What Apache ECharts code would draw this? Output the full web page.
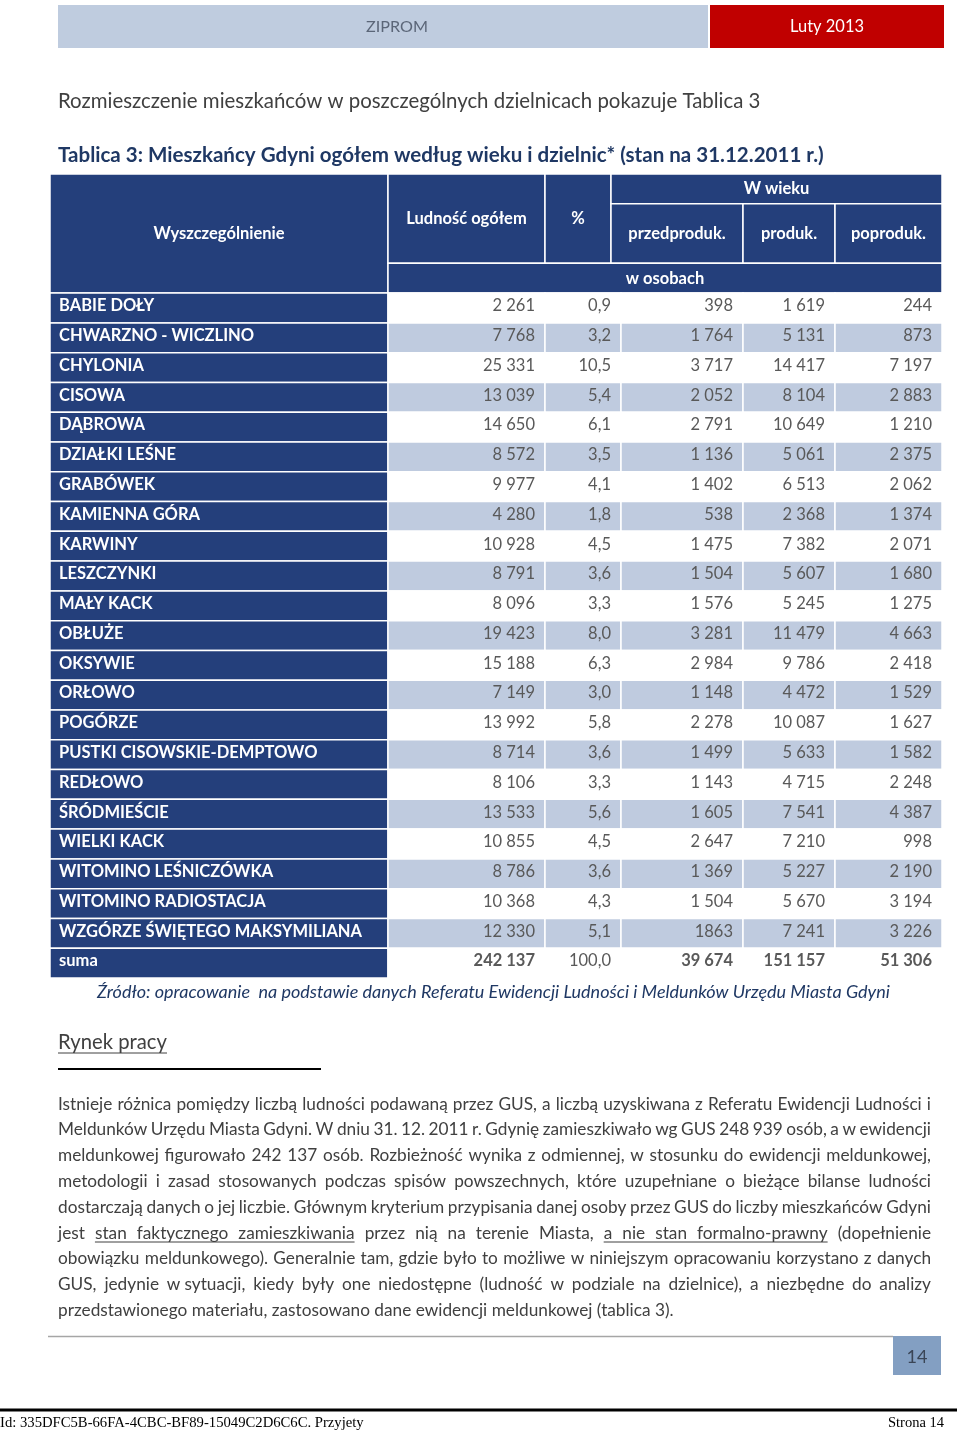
<!DOCTYPE html>
<html><head><meta charset="utf-8">
<script src="https://cdn.jsdelivr.net/npm/echarts@6/dist/echarts.min.js"></script>
<style>html,body{margin:0;padding:0;background:#fff}#c{width:960px;height:1433px}</style>
</head><body><div id="c"></div><script>
// ---------- DATA ----------
const districts = ['BABIE DOŁY','CHWARZNO - WICZLINO','CHYLONIA','CISOWA','DĄBROWA','DZIAŁKI LEŚNE','GRABÓWEK','KAMIENNA GÓRA','KARWINY','LESZCZYNKI','MAŁY KACK','OBŁUŻE','OKSYWIE','ORŁOWO','POGÓRZE','PUSTKI CISOWSKIE-DEMPTOWO','REDŁOWO','ŚRÓDMIEŚCIE','WIELKI KACK','WITOMINO LEŚNICZÓWKA','WITOMINO RADIOSTACJA','WZGÓRZE ŚWIĘTEGO MAKSYMILIANA'];
const population = [2261,7768,25331,13039,14650,8572,9977,4280,10928,8791,8096,19423,15188,7149,13992,8714,8106,13533,10855,8786,10368,12330];
const percent = [0.9,3.2,10.5,5.4,6.1,3.5,4.1,1.8,4.5,3.6,3.3,8.0,6.3,3.0,5.8,3.6,3.3,5.6,4.5,3.6,4.3,5.1];
const preProd = [398,1764,3717,2052,2791,1136,1402,538,1475,1504,1576,3281,2984,1148,2278,1499,1143,1605,2647,1369,1504,1863];
const prod = [1619,5131,14417,8104,10649,5061,6513,2368,7382,5607,5245,11479,9786,4472,10087,5633,4715,7541,7210,5227,5670,7241];
const postProd = [244,873,7197,2883,1210,2375,2062,1374,2071,1680,1275,4663,2418,1529,1627,1582,2248,4387,998,2190,3194,3226];
const totalLabel = 'suma';
const totals = [242137, 100.0, 39674, 151157, 51306];
const headerLabels = ['Wyszczególnienie','Ludność ogółem','%','W wieku','przedproduk.','produk.','poproduk.','w osobach'];
// cells printed without thousands separator in the source: [row, column]
const unspacedCells = [[21, 3]];

// ---------- LAYOUT ----------
const FONT = 'Lato';
const colEdges = [0, 338, 495, 571, 693, 785, 892];
const headPctEdge = 561;
const DARK = '#243F7B', LIGHT = '#BFCBDF', NUM = '#595959';

const fmtInt = v => String(v).replace(/\B(?=(\d{3})+(?!\d))/g, ' ');
const fmtPct = v => v.toFixed(1).replace('.', ',');

const cells = [];
function cell(x0, x1, y0, y1, opt) { cells.push(Object.assign({x0, x1, y0, y1}, opt)); }
// header
const H = {fill: DARK, color: '#fff', weight: 'bold', align: 'center', dy: 0};
cell(colEdges[0], colEdges[1], -4, 0, Object.assign({text: headerLabels[0]}, H));
cell(colEdges[1], colEdges[2], -4, -1, Object.assign({text: headerLabels[1]}, H));
cell(colEdges[2], headPctEdge, -4, -1, Object.assign({text: headerLabels[2]}, H));
cell(headPctEdge, colEdges[6], -4, -3, Object.assign({text: headerLabels[3]}, H));
cell(headPctEdge, colEdges[4], -3, -1, Object.assign({text: headerLabels[4]}, H));
cell(colEdges[4], colEdges[5], -3, -1, Object.assign({text: headerLabels[5]}, H));
cell(colEdges[5], colEdges[6], -3, -1, Object.assign({text: headerLabels[6]}, H));
cell(colEdges[1], colEdges[6], -1, 0, Object.assign({text: headerLabels[7]}, H));
// rows
const rows = districts.map((d, i) => [d, population[i], percent[i], preProd[i], prod[i], postProd[i]]);
rows.push([totalLabel].concat(totals));
rows.forEach((r, i) => {
  const isSum = i === rows.length - 1;
  cell(colEdges[0], colEdges[1], i, i + 1, {text: r[0], fill: DARK, color: '#fff', weight: 'bold', align: 'left', dy: -2});
  for (let c = 1; c <= 5; c++) {
    const unspaced = unspacedCells.some(u => u[0] === i && u[1] === c);
    const txt = c === 2 ? fmtPct(r[c]) : (unspaced ? String(r[c]) : fmtInt(r[c]));
    cell(colEdges[c], colEdges[c + 1], i, i + 1, {text: txt, fill: i % 2 ? LIGHT : '#fff', color: NUM,
      weight: (isSum && c !== 2) ? 'bold' : 'normal', align: 'right', dy: -2});
  }
});

// ---------- TEXT HELPERS ----------
const mctx = document.createElement('canvas').getContext('2d');
function measure(text, size, weight, style, fam) {
  mctx.font = `${style || 'normal'} ${weight || 'normal'} ${size}px ${fam || FONT}`;
  return mctx.measureText(text).width;
}
function fitSize(text, target, weight, style, fam) {
  return 100 * target / measure(text, 100, weight, style, fam);
}
const graphics = [];
function txt(x, y, text, o) {
  graphics.push({type: 'text', silent: true, x, y, style: Object.assign({text, fill: '#404040', fontFamily: FONT,
    verticalAlign: 'middle', align: 'left'}, o)});
}
function line(x1, y1, x2, y2, stroke, lw) {
  graphics.push({type: 'line', silent: true, shape: {x1, y1, x2, y2}, style: {stroke, lineWidth: lw}});
}
function rect(x, y, width, height, fill) {
  graphics.push({type: 'rect', silent: true, shape: {x, y, width, height}, style: {fill}});
}

// page header
rect(58, 5, 650, 43, '#BFCCDF');
rect(710, 5, 234, 43, '#C00000');
txt(397, 27, 'ZIPROM', {align: 'center', fill: '#5B6678', fontSize: fitSize('ZIPROM', 62)});
txt(827, 27, 'Luty 2013', {align: 'center', fill: '#fff', fontSize: fitSize('Luty 2013', 74)});

const intro = 'Rozmieszczenie mieszkańców w poszczególnych dzielnicach pokazuje Tablica 3';
txt(58, 101, intro, {fontSize: fitSize(intro, 703)});
const title = 'Tablica 3: Mieszkańcy Gdyni ogółem według wieku i dzielnic* (stan na 31.12.2011 r.)';
txt(58, 155, title, {fontSize: fitSize(title, 766, 'bold'), fontWeight: 'bold', fill: '#1F3864'});
const source = 'Źródło: opracowanie  na podstawie danych Referatu Ewidencji Ludności i Meldunków Urzędu Miasta Gdyni';
txt(97, 992, source, {fontSize: fitSize(source, 794, 'normal', 'italic'), fontStyle: 'italic', fill: '#1F3864'});

const rynek = 'Rynek pracy';
const rs = fitSize(rynek, 109);
txt(58, 1042, rynek, {fontSize: rs, fill: '#404040'});
line(58, 1053, 167, 1053, '#404040', 1);
line(58, 1069, 321, 1069, '#000', 2);

// body paragraph (justified)
const body = [
 'Istnieje różnica pomiędzy liczbą ludności podawaną przez GUS, a liczbą uzyskiwana z Referatu Ewidencji Ludności i',
 'Meldunków Urzędu Miasta Gdyni. W dniu 31. 12. 2011 r. Gdynię zamieszkiwało wg GUS 248 939 osób, a w ewidencji',
 'meldunkowej figurowało 242 137 osób. Rozbieżność wynika z odmiennej, w stosunku do ewidencji meldunkowej,',
 'metodologii i zasad stosowanych podczas spisów powszechnych, które uzupełniane o bieżące bilanse ludności',
 'dostarczają danych o jej liczbie. Głównym kryterium przypisania danej osoby przez GUS do liczby mieszkańców Gdyni',
 'jest stan faktycznego zamieszkiwania przez nią na terenie Miasta, a nie stan formalno-prawny (dopełnienie',
 'obowiązku meldunkowego). Generalnie tam, gdzie było to możliwe w niniejszym opracowaniu korzystano z danych',
 'GUS, jedynie w\u00a0sytuacji, kiedy były one niedostępne (ludność w podziale na dzielnice), a niezbędne do analizy',
 'przedstawionego materiału, zastosowano dane ewidencji meldunkowej (tablica 3).'
];
const underlined = {5: [[1, 3], [9, 12]]};
const bodySize = fitSize(body[8], 616);
const bx0 = 58, bx1 = 931, by0 = 1104, bstep = 25.8;
body.forEach((ln, li) => {
  const y = by0 + li * bstep;
  if (li === body.length - 1) { txt(bx0, y, ln, {fontSize: bodySize}); return; }
  const words = ln.split(' ');
  const ws = words.map(w => measure(w, bodySize));
  const gap = (bx1 - bx0 - ws.reduce((a, b) => a + b, 0)) / (words.length - 1);
  const xs = []; let x = bx0;
  words.forEach((w, wi) => { xs.push(x); txt(x, y, w, {fontSize: bodySize}); x += ws[wi] + gap; });
  (underlined[li] || []).forEach(([a, b]) => line(xs[a], y + 9, xs[b] + ws[b], y + 9, '#404040', 1));
});

// page footer
line(48, 1336.5, 893, 1336.5, '#A6A6A6', 1.5);
rect(893, 1336, 48, 39, '#839FC2');
txt(917, 1357, '14', {align: 'center', fill: '#3A4556', fontSize: fitSize('14', 21)});
line(0, 1410, 957, 1410, '#000', 3);
const idText = 'Id: 335DFC5B-66FA-4CBC-BF89-15049C2D6C6C. Przyjety';
txt(0, 1423, idText, {fontFamily: 'Liberation Serif', fontSize: fitSize(idText, 364, 'normal', 'normal', 'Liberation Serif'), fill: '#000'});
txt(944, 1423, 'Strona 14', {fontFamily: 'Liberation Serif', fontSize: fitSize('Strona 14', 56, 'normal', 'normal', 'Liberation Serif'), fill: '#000', align: 'right'});

// ---------- CHART ----------
const chart = echarts.init(document.getElementById('c'), null, {renderer: 'canvas'});
chart.setOption({
  animation: false,
  backgroundColor: '#fff',
  grid: {left: 50, right: 18, top: 174, bottom: 455},
  xAxis: {type: 'value', min: 0, max: 892, show: false},
  yAxis: {type: 'value', inverse: true, min: -4, max: 23, show: false},
  series: [{
    type: 'custom', silent: true,
    encode: {x: [0, 2], y: [1, 3]},
    data: cells.map(c => [c.x0, c.y0, c.x1, c.y1]),
    renderItem(params, api) {
      const c = cells[params.dataIndex];
      const p0 = api.coord([c.x0, c.y0]), p1 = api.coord([c.x1, c.y1]);
      const w = p1[0] - p0[0], h = p1[1] - p0[1];
      const tx = c.align === 'left' ? p0[0] + 9 : c.align === 'right' ? p1[0] - 10 : p0[0] + w / 2;
      return {type: 'group', children: [
        {type: 'rect', shape: {x: p0[0], y: p0[1], width: w, height: h}, style: {fill: c.fill, stroke: '#fff', lineWidth: 1.5}},
        {type: 'text', style: {x: tx, y: p0[1] + h / 2 + c.dy, text: c.text, align: c.align, verticalAlign: 'middle',
          fill: c.color, fontFamily: FONT, fontSize: 16.5, fontWeight: c.weight}}
      ]};
    }
  }],
  graphic: graphics
});
</script></body></html>
